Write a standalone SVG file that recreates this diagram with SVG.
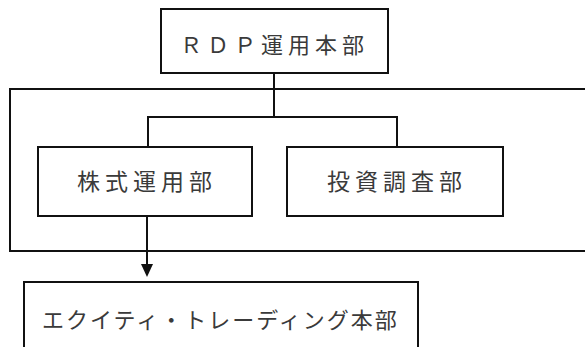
<svg xmlns="http://www.w3.org/2000/svg" width="585" height="347" viewBox="0 0 585 347">
<style>
.box{fill:#fff;stroke:#111;stroke-width:2}
.ln{fill:none;stroke:#111;stroke-width:2}
.t{font-family:"Noto Sans CJK JP","Noto Sans CJK SC",sans-serif;fill:#3a3a3a;font-size:22px}
</style>
<defs>
<marker id="ah" viewBox="0 0 10 10" refX="10" refY="5" markerWidth="6" markerHeight="6" orient="auto" markerUnits="strokeWidth">
<path d="M0,0 L10,5 L0,10 Z" fill="#111"/>
</marker>
</defs>
<rect width="585" height="347" fill="#fff"/>
<g id="group-frame">
<rect class="box" x="10" y="89" width="590" height="162"/>
</g>
<g id="connectors">
<path class="ln" d="M274,73 V117"/>
<path class="ln" d="M148,147 V117 H397 V147"/>
<path class="ln" d="M147,216 V265"/>
<path d="M141,264 L153,264 L147,277 Z" fill="#111"/>
</g>
<g id="node-rdp">
<rect class="box" x="161" y="9" width="227" height="64"/>
<text class="t" x="180" y="53" letter-spacing="5">ＲＤＰ運用本部</text>
</g>
<g id="node-kabushiki">
<rect class="box" x="38" y="147" width="214" height="69"/>
<text class="t" x="77" y="190" style="font-size:23px" letter-spacing="5">株式運用部</text>
</g>
<g id="node-toushi">
<rect class="box" x="287" y="147" width="216" height="69"/>
<text class="t" x="327" y="190" style="font-size:23px" letter-spacing="5">投資調査部</text>
</g>
<g id="node-equity">
<rect class="box" x="24" y="282" width="394" height="80"/>
<text class="t" x="42" y="328" letter-spacing="2">エクイティ・トレーディング本部</text>
</g>
</svg>
